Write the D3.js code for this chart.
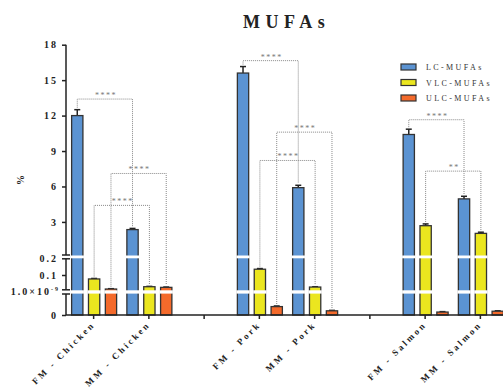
<!DOCTYPE html>
<html>
<head>
<meta charset="utf-8">
<script src="https://cdn.jsdelivr.net/npm/d3@7"></script>
<style>
  body { margin: 0; background: #fff; }
  text { font-family: "Liberation Serif", "DejaVu Serif", serif; }
</style>
</head>
<body>
<svg width="503" height="391"></svg>
<script>
// categories (empty keys are the spacer slots between meats)
const categories = ["FM - Chicken", "MM - Chicken", "gap1", "FM - Pork", "MM - Pork", "gap2", "FM - Salmon", "MM - Salmon"];
const seriesNames = ["LC-MUFAs", "VLC-MUFAs", "ULC-MUFAs"];
const colors = ["#5b93d2", "#ebe61f", "#f46a2b"];

const lcValues  = [12.0, 2.35, null, 15.6, 5.9, null, 10.4, 4.95];
const lcErrors  = [0.5, 0.1, null, 0.55, 0.2, null, 0.45, 0.22];
const vlcValues = [0.076, 0.029, null, 0.135, 0.027, null, 2.68, 2.03];
const vlcErrors = [0.003, 0.002, null, 0.004, 0.002, null, 0.15, 0.1];
const ulcValues = [0.015, 0.025, null, 4e-10, 2e-10, null, 1.4e-10, 1.8e-10];
const ulcErrors = [0.002, 0.002, null, 0.3e-10, 0.2e-10, null, 0.2e-10, 0.2e-10];

// y axis segments (broken axis)
const topTicks = [3, 6, 9, 12, 15, 18];
const midTicks = [0.1, 0.2];

// significance brackets: [category A, category B, series index, height, label]
const brackets = [
  ["FM - Chicken", "MM - Chicken", 0, 13.4, "****"],
  ["FM - Chicken", "MM - Chicken", 2, 7.1, "****"],
  ["FM - Chicken", "MM - Chicken", 1, 4.4, "****"],
  ["FM - Pork", "MM - Pork", 0, 16.65, "****"],
  ["FM - Pork", "MM - Pork", 2, 10.6, "****"],
  ["FM - Pork", "MM - Pork", 1, 8.2, "****"],
  ["FM - Salmon", "MM - Salmon", 0, 11.65, "****"],
  ["FM - Salmon", "MM - Salmon", 1, 7.3, "**"]
];

const values = [lcValues, vlcValues, ulcValues];
const errors = [lcErrors, vlcErrors, ulcErrors];

const svg = d3.select("svg");

const x = d3.scaleBand().domain(categories).range([66, 508]).padding(0);
const xs = d3.scaleBand().domain(d3.range(3)).range([-22, 23]).paddingInner(0.33);

const yBot = d3.scaleLinear().domain([0, 1e-9]).range([315, 294]);
const yMid = d3.scaleLinear().domain([0, 0.2]).range([291.5, 258.5]);
const yTop = d3.scaleLinear().domain([0.2, 18]).range([255, 44.7]);

function y(v) {
  if (v <= 1e-9) return yBot(v);
  if (v <= 0.2) return yMid(v);
  return yTop(v);
}

// title
svg.append("text")
  .attr("x", 243).attr("y", 28)
  .attr("font-size", 18).attr("font-weight", "bold")
  .attr("letter-spacing", 5.5)
  .attr("fill", "#222")
  .text("MUFAs");

// bars
const barData = [];
categories.forEach((c, i) => {
  values.forEach((arr, s) => {
    if (arr[i] != null) barData.push({cat: c, s: s, v: arr[i], e: errors[s][i]});
  });
});

const bw = xs.bandwidth();
const bars = svg.append("g");

bars.selectAll("line.err")
  .data(barData)
  .join("line")
  .attr("x1", d => x(d.cat) + x.bandwidth() / 2 + xs(d.s) + bw / 2)
  .attr("x2", d => x(d.cat) + x.bandwidth() / 2 + xs(d.s) + bw / 2)
  .attr("y1", d => y(d.v))
  .attr("y2", d => y(d.v + d.e))
  .attr("stroke", "#222").attr("stroke-width", 1.5);

bars.selectAll("line.cap")
  .data(barData)
  .join("line")
  .attr("x1", d => x(d.cat) + x.bandwidth() / 2 + xs(d.s) + bw / 2 - 3)
  .attr("x2", d => x(d.cat) + x.bandwidth() / 2 + xs(d.s) + bw / 2 + 3)
  .attr("y1", d => y(d.v + d.e))
  .attr("y2", d => y(d.v + d.e))
  .attr("stroke", "#222").attr("stroke-width", 1.5);

bars.selectAll("rect.bar")
  .data(barData)
  .join("rect")
  .attr("x", d => x(d.cat) + x.bandwidth() / 2 + xs(d.s))
  .attr("width", bw)
  .attr("y", d => y(d.v))
  .attr("height", d => 315 - y(d.v))
  .attr("fill", d => colors[d.s])
  .attr("stroke", "#333").attr("stroke-width", 1.3);

// white bands where the axis is broken
const breaks = [[255.5, 258.3], [290.3, 293.6]];
breaks.forEach(b => {
  bars.selectAll(null)
    .data(barData.filter(d => y(d.v) < b[0]))
    .join("rect")
    .attr("x", d => x(d.cat) + x.bandwidth() / 2 + xs(d.s) - 1)
    .attr("width", bw + 2)
    .attr("y", b[0])
    .attr("height", b[1] - b[0])
    .attr("fill", "#fff");
});

// brackets
const bg = svg.append("g");
function barX(cat, s) { return x(cat) + x.bandwidth() / 2 + xs(s) + bw / 2; }
function barTop(cat, s) {
  const i = categories.indexOf(cat);
  return y(values[s][i] + errors[s][i]) - 2;
}
brackets.forEach(b => {
  const x1 = barX(b[0], b[2]), x2 = barX(b[1], b[2]);
  const yy = y(b[3]);
  bg.append("path")
    .attr("d", `M${x1},${barTop(b[0], b[2])}V${yy}H${x2}V${barTop(b[1], b[2])}`)
    .attr("fill", "none")
    .attr("stroke", "#888").attr("stroke-width", 1)
    .attr("stroke-dasharray", "1,1");
  bg.append("text")
    .attr("x", (x1 + x2) / 2 + 1).attr("y", yy - 1)
    .attr("text-anchor", "middle")
    .attr("font-size", 8).attr("letter-spacing", 1.5)
    .attr("fill", "#777")
    .text(b[4]);
});

// y axis, one piece per segment
const tickFont = g => g.selectAll("text")
  .attr("font-size", 10).attr("font-weight", "bold")
  .attr("font-family", "Liberation Serif, serif")
  .attr("letter-spacing", 2).attr("fill", "#222");

const axTop = svg.append("g").attr("transform", "translate(66,0)")
  .call(d3.axisLeft(yTop).tickValues(topTicks).tickSize(4).tickPadding(4).tickFormat(d3.format("d")));
const axMid = svg.append("g").attr("transform", "translate(66,0)")
  .call(d3.axisLeft(yMid).tickValues(midTicks).tickSize(4).tickPadding(4).tickFormat(d3.format(".1f")));
const axBot = svg.append("g").attr("transform", "translate(66,0)")
  .call(d3.axisLeft(yBot).tickValues([0]).tickSize(4).tickPadding(4).tickFormat(d3.format("d")));
[axTop, axMid, axBot].forEach(a => {
  a.select(".domain").remove();
  a.selectAll("line").attr("stroke", "#222").attr("stroke-width", 1.5);
  tickFont(a);
});
// labels for the break values
axMid.selectAll(".tick").filter(d => d === 0.2).select("line").remove();

const lab9 = svg.append("text")
  .attr("x", 60).attr("y", 294.5)
  .attr("text-anchor", "end")
  .attr("font-size", 10).attr("font-weight", "bold")
  .attr("letter-spacing", 2).attr("fill", "#222");
lab9.append("tspan").text("1.0×10");
lab9.append("tspan").attr("dy", -4).attr("font-size", 6).text("-9");

// axis line pieces and break marks
const axisPieces = [[44.7, 255], [258.8, 289.8], [294, 315]];
axisPieces.forEach(p => {
  svg.append("line")
    .attr("x1", 66).attr("x2", 66).attr("y1", p[0]).attr("y2", p[1])
    .attr("stroke", "#222").attr("stroke-width", 1.5);
});
[255, 258.8, 289.8, 294].forEach(v => {
  svg.append("line")
    .attr("x1", 62).attr("x2", 70).attr("y1", v).attr("y2", v)
    .attr("stroke", "#222").attr("stroke-width", 1.5);
});

// y label
svg.append("text")
  .attr("transform", "translate(24,180) rotate(-90)")
  .attr("text-anchor", "middle")
  .attr("font-size", 10).attr("font-weight", "bold")
  .attr("fill", "#222")
  .text("%");

// x axis
const axX = svg.append("g").attr("transform", "translate(0,315)")
  .call(d3.axisBottom(x).tickSize(4).tickFormat(""));
axX.select(".domain").attr("stroke", "#222").attr("stroke-width", 1.5).attr("d", "M66,0H503");
axX.selectAll("line").attr("stroke", "#222").attr("stroke-width", 1.5);

svg.append("g").selectAll("text")
  .data(categories.filter(c => !c.startsWith("gap")))
  .join("text")
  .attr("transform", d => `translate(${x(d) + x.bandwidth() / 2 + 2},325) rotate(-45)`)
  .attr("text-anchor", "end")
  .attr("font-size", 9).attr("font-weight", "bold")
  .attr("letter-spacing", 2.6).attr("fill", "#222")
  .text(d => d);

// legend
const lg = svg.append("g");
seriesNames.forEach((n, i) => {
  lg.append("rect")
    .attr("x", 401).attr("y", 64 + i * 15.5)
    .attr("width", 15).attr("height", 6)
    .attr("fill", colors[i])
    .attr("stroke", "#333").attr("stroke-width", 1.2);
  lg.append("text")
    .attr("x", 426).attr("y", 70 + i * 15.5)
    .attr("font-size", 8).attr("letter-spacing", 2.4)
    .attr("fill", "#333")
    .text(n);
});
</script>
</body>
</html>
